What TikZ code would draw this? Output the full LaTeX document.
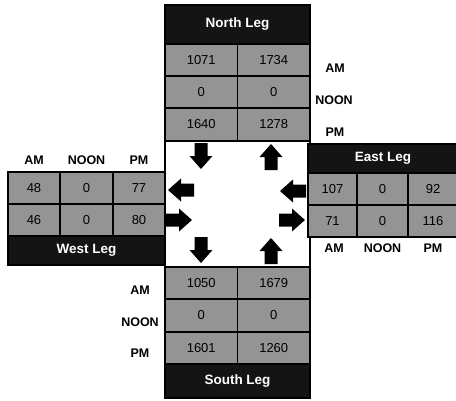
\documentclass[tikz,border=0pt]{standalone}
\usepackage{fontspec}
\setmainfont{Liberation Sans}
\begin{document}
\begin{tikzpicture}[x=1pt,y=-1pt,
  cell/.style={draw=black,line width=1.5pt,fill=black!42,inner sep=0pt,font=\fontsize{13}{13}\selectfont},
  hdr/.style={draw=black,line width=1.5pt,fill=black!92,inner sep=0pt,text=white,font=\bfseries\fontsize{13.5}{13.5}\selectfont},
  lbl/.style={inner sep=0pt,font=\bfseries\fontsize{12.5}{12.5}\selectfont},
  bigarrow/.pic={\fill[black] (-13,-6.5) -- (0,-6.5) -- (0,-11.5) -- (13,0) -- (0,11.5) -- (0,6.5) -- (-13,6.5) -- cycle;}]
\useasboundingbox (0,0) rectangle (456,400);
\fill[white] (0,0) rectangle (456,400);

% centre box
\node[draw=black,line width=1.5pt,fill=white,minimum width=145pt,minimum height=126pt,inner sep=0pt] (ctr) at (237.5,204) {};

% North leg
\node[hdr,minimum width=145pt,minimum height=39pt] (nh) at (237.5,24.5) {North Leg};
\node[cell,minimum width=72.5pt,minimum height=32pt] (n1a) at (201.25,60) {1071};
\node[cell,minimum width=72.5pt,minimum height=32pt] (n1b) at (273.75,60) {1734};
\node[cell,minimum width=72.5pt,minimum height=32pt] (n2a) at (201.25,92) {0};
\node[cell,minimum width=72.5pt,minimum height=32pt] (n2b) at (273.75,92) {0};
\node[cell,minimum width=72.5pt,minimum height=33pt] (n3a) at (201.25,124.5) {1640};
\node[cell,minimum width=72.5pt,minimum height=33pt] (n3b) at (273.75,124.5) {1278};
\node[lbl] (nam) at (335,68) {AM};
\node[lbl] (nnoon) at (334,100) {NOON};
\node[lbl] (npm) at (335,132) {PM};

% South leg
\node[cell,minimum width=72.5pt,minimum height=32pt] (s1a) at (201.25,283) {1050};
\node[cell,minimum width=72.5pt,minimum height=32pt] (s1b) at (273.75,283) {1679};
\node[cell,minimum width=72.5pt,minimum height=33pt] (s2a) at (201.25,315.5) {0};
\node[cell,minimum width=72.5pt,minimum height=33pt] (s2b) at (273.75,315.5) {0};
\node[cell,minimum width=72.5pt,minimum height=32pt] (s3a) at (201.25,348) {1601};
\node[cell,minimum width=72.5pt,minimum height=32pt] (s3b) at (273.75,348) {1260};
\node[hdr,minimum width=145pt,minimum height=34pt] (sh) at (237.5,381) {South Leg};
\node[lbl] (sam) at (140,290) {AM};
\node[lbl] (snoon) at (140,322) {NOON};
\node[lbl] (spm) at (140,353) {PM};

% West leg
\node[lbl] (wam) at (34,160) {AM};
\node[lbl] (wnoon) at (86.5,160) {NOON};
\node[lbl] (wpm) at (139,160) {PM};
\node[cell,minimum width=52pt,minimum height=32pt] (w1a) at (34,188) {48};
\node[cell,minimum width=53pt,minimum height=32pt] (w1b) at (86.5,188) {0};
\node[cell,minimum width=52pt,minimum height=32pt] (w1c) at (139,188) {77};
\node[cell,minimum width=52pt,minimum height=32pt] (w2a) at (34,220) {46};
\node[cell,minimum width=53pt,minimum height=32pt] (w2b) at (86.5,220) {0};
\node[cell,minimum width=52pt,minimum height=32pt] (w2c) at (139,220) {80};
\node[hdr,minimum width=157pt,minimum height=29pt] (wh) at (86.5,250.5) {West Leg};

% East leg
\node[hdr,minimum width=150pt,minimum height=29pt] (eh) at (383,158.5) {East Leg};
\node[cell,minimum width=49pt,minimum height=32pt] (e1a) at (332.5,189) {107};
\node[cell,minimum width=51pt,minimum height=32pt] (e1b) at (382.5,189) {0};
\node[cell,minimum width=50pt,minimum height=32pt] (e1c) at (433,189) {92};
\node[cell,minimum width=49pt,minimum height=32pt] (e2a) at (332.5,221) {71};
\node[cell,minimum width=51pt,minimum height=32pt] (e2b) at (382.5,221) {0};
\node[cell,minimum width=50pt,minimum height=32pt] (e2c) at (433,221) {116};
\node[lbl] (eam) at (334,248) {AM};
\node[lbl] (enoon) at (382.5,248) {NOON};
\node[lbl] (epm) at (433,248) {PM};

% arrows in the centre box
\pic[rotate=-90] at (201,156) {bigarrow};
\pic[rotate=90] at (271,157) {bigarrow};
\pic[rotate=180] at (181,190) {bigarrow};
\pic[rotate=180] at (293,191) {bigarrow};
\pic at (179,220) {bigarrow};
\pic at (292,220) {bigarrow};
\pic[rotate=-90] at (201,250) {bigarrow};
\pic[rotate=90] at (271,251) {bigarrow};
\end{tikzpicture}
\end{document}
